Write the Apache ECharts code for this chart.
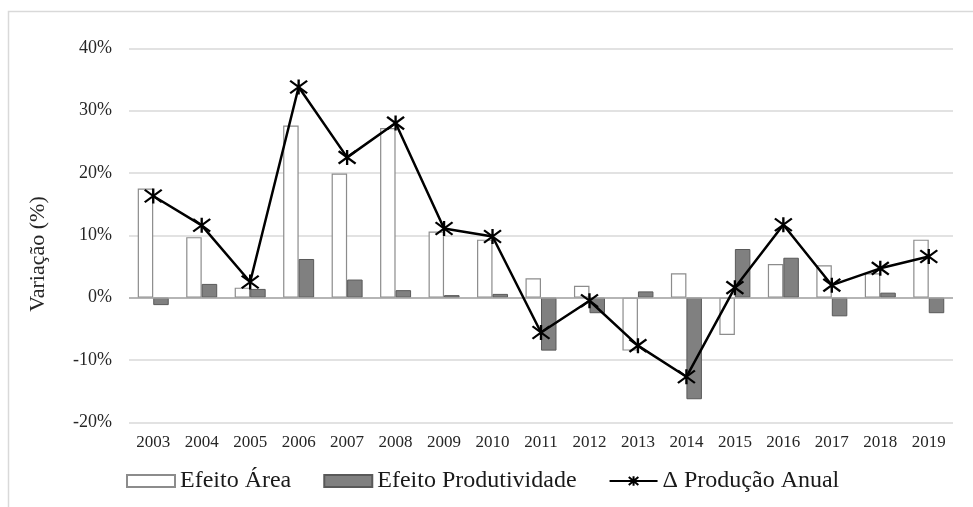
<!DOCTYPE html>
<html>
<head>
<meta charset="utf-8">
<script src="https://cdn.jsdelivr.net/npm/echarts@6/dist/echarts.min.js"></script>
<style>
  html, body { margin: 0; padding: 0; background: #fff; }
  #chart { width: 973px; height: 507px; }
</style>
</head>
<body>
<div id="chart"></div>
<script>
// Decomposição da variação anual da produção (%)
const anos = ['2003','2004','2005','2006','2007','2008','2009','2010','2011','2012','2013','2014','2015','2016','2017','2018','2019'];
const efeitoArea = [17.5, 9.7, 1.6, 27.6, 19.9, 27.2, 10.6, 9.3, 3.1, 1.9, -8.5, 3.9, -6.0, 5.4, 5.2, 3.9, 9.3];
const efeitoProdutividade = [-1.2, 2.2, 1.4, 6.2, 2.9, 1.2, 0.4, 0.6, -8.5, -2.5, 1.0, -16.3, 7.8, 6.4, -3.0, 0.8, -2.5];
const producaoAnual = [16.3, 11.6, 2.5, 33.8, 22.5, 28.0, 11.1, 9.8, -5.6, -0.5, -7.7, -12.7, 1.6, 11.7, 2.0, 4.7, 6.6];
const yTicks = { min: -20, max: 40, step: 10 };

const serif = '"Liberation Serif", "DejaVu Serif", serif';
const asterisco = 'path://M0,0L10,10M10,0L0,10M5,-1L5,11';

const chart = echarts.init(document.getElementById('chart'), null, { renderer: 'canvas' });

chart.setOption({
  backgroundColor: '#ffffff',
  animation: false,
  graphic: [
    {
      type: 'rect',
      shape: { x: 8.5, y: 11.5, width: 1100, height: 700 },
      style: { fill: 'none', stroke: '#d9d9d9', lineWidth: 1.5 },
      silent: true
    },
    {
      type: 'text',
      x: 38, y: 254,
      rotation: Math.PI / 2,
      style: {
        text: 'Variação (%)',
        font: '22px ' + serif,
        fill: '#262626',
        align: 'center',
        verticalAlign: 'middle'
      }
    }
  ],
  grid: { left: 129, right: 20, top: 48.3, bottom: 84.7, containLabel: false },
  legend: {
    bottom: 9,
    left: 121,
    itemWidth: 48,
    itemHeight: 12,
    itemGap: 32,
    textStyle: { fontFamily: serif, fontSize: 24, color: '#1a1a1a' },
    data: [
      { name: 'Efeito Área', icon: 'rect' },
      { name: 'Efeito Produtividade', icon: 'rect' },
      { name: 'Δ Produção Anual' }
    ]
  },
  xAxis: {
    type: 'category',
    data: anos,
    axisLine: { show: false },
    axisTick: { show: false },
    axisLabel: { fontFamily: serif, fontSize: 17, color: '#262626', margin: 12 },
    splitLine: { show: false }
  },
  yAxis: {
    type: 'value',
    min: yTicks.min,
    max: yTicks.max,
    interval: yTicks.step,
    axisLine: { show: false },
    axisTick: { show: false },
    axisLabel: { formatter: '{value}%', fontFamily: serif, fontSize: 18, color: '#262626', margin: 17 },
    splitLine: { lineStyle: { color: '#d9d9d9', width: 1.5 } }
  },
  series: [
    {
      name: 'Efeito Área',
      type: 'bar',
      data: efeitoArea,
      barWidth: 15.5,
      barGap: '0%',
      itemStyle: { color: '#ffffff', borderColor: '#8c8c8c', borderWidth: 1.2 },
      markLine: {
        silent: true,
        symbol: 'none',
        label: { show: false },
        lineStyle: { color: '#a6a6a6', width: 1.5, type: 'solid' },
        data: [{ yAxis: 0 }]
      },
      z: 2
    },
    {
      name: 'Efeito Produtividade',
      type: 'bar',
      data: efeitoProdutividade,
      barWidth: 15.5,
      barGap: '0%',
      itemStyle: { color: '#808080', borderColor: '#595959', borderWidth: 1 },
      z: 2
    },
    {
      name: 'Δ Produção Anual',
      type: 'line',
      data: producaoAnual,
      symbol: asterisco,
      symbolSize: [17, 15],
      showAllSymbol: true,
      lineStyle: { color: '#000000', width: 2.5 },
      itemStyle: { color: '#000000', borderColor: '#000000', borderWidth: 2.2 },
      z: 5
    }
  ]
});
</script>
</body>
</html>
